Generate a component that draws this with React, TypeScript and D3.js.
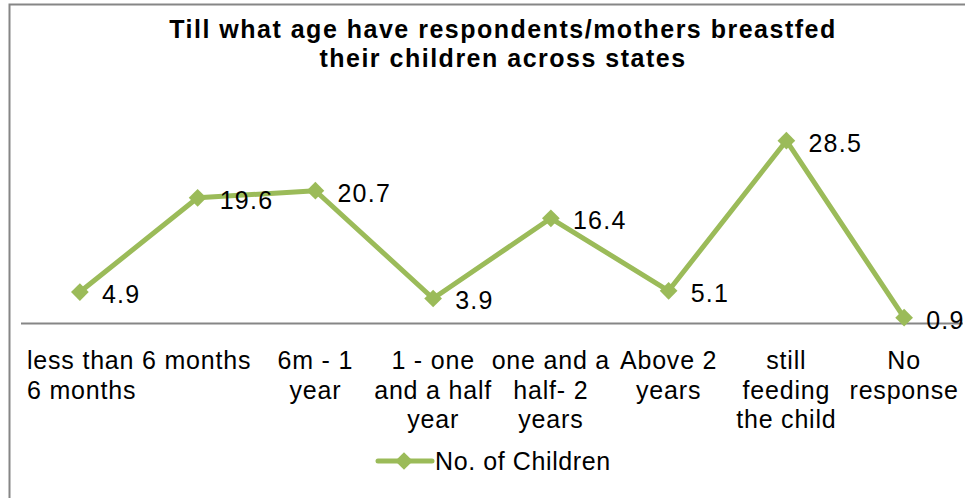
import * as d3 from "d3";

const categories = [
  "less than 6 months",
  "6m - 1 year",
  "1 - one and a half year",
  "one and a half- 2 years",
  "Above 2 years",
  "still feeding the child",
  "No response",
];
// wrapped lines as they appear under the axis; the first one spills left
const categoryLines = [
  ["less than 6 months", "6 months"],
  ["6m - 1", "year"],
  ["1 - one", "and a half", "year"],
  ["one and a", "half- 2", "years"],
  ["Above 2", "years"],
  ["still", "feeding", "the child"],
  ["No", "response"],
];
const pointKeys = ["p0", "p1", "p2", "p3", "p4", "p5", "p6", "p7"];
const values = [4.9, 19.6, 20.7, 3.9, 16.4, 5.1, 28.5, 0.9];
const seriesName = "No. of Children";
const titleLines = [
  "Till what age have respondents/mothers breastfed",
  "their children across states",
];

const W = 965;
const H = 498;
const green = "#9BBB59";
const font = "'Liberation Sans', Arial, sans-serif";

export default function App() {
  const x = d3.scaleBand<string>().domain(pointKeys).range([21, 963]);
  const y = d3.scaleLinear().domain([0, 35]).range([323.5, 99]);
  const cx = (i: number) => (x(pointKeys[i]) ?? 0) + x.bandwidth() / 2;

  const line = d3
    .line<number>()
    .x((_, i) => cx(i))
    .y((d) => y(d));

  const diamond = d3.symbol().type(d3.symbolDiamond2).size(200)() as string;

  return (
    <svg
      width={W}
      height={H}
      style={{ position: "absolute", left: 0, top: 0, background: "#fff" }}
      fontFamily={font}
    >
      <rect x={0} y={0} width={W} height={H} fill="#fff" />
      <path d={`M9.5,${H} V4.5 H${W}`} fill="none" stroke="#868686" strokeWidth={2} />

      {titleLines.map((t, i) => (
        <text
          key={t}
          x={503}
          y={38 + i * 29}
          textAnchor="middle"
          fontSize={25}
          fontWeight="bold"
          letterSpacing={1.5}
          fill="#000"
        >
          {t}
        </text>
      ))}

      <line x1={21} x2={963} y1={y(0)} y2={y(0)} stroke="#868686" strokeWidth={2} />

      {categoryLines.map((lines, i) => {
        const first = i === 0;
        const px = first ? 27 : cx(i + 1);
        return (
          <text
            key={categories[i]}
            x={px}
            y={369}
            fontSize={25}
            letterSpacing={0.8}
            fill="#000"
            textAnchor={first ? "start" : "middle"}
          >
            {lines.map((l, j) => (
              <tspan key={j} x={px} dy={j === 0 ? 0 : 29.5}>
                {l}
              </tspan>
            ))}
          </text>
        );
      })}

      <path d={line(values) ?? ""} fill="none" stroke={green} strokeWidth={5} strokeLinejoin="round" />
      {values.map((v, i) => (
        <g key={pointKeys[i]}>
          <path d={diamond} transform={`translate(${cx(i)},${y(v)})`} fill={green} />
          <text x={cx(i) + 22} y={y(v) + 11} fontSize={25} letterSpacing={1.3} fill="#000">
            {v.toFixed(1)}
          </text>
        </g>
      ))}

      <g>
        <line x1={378} x2={432} y1={461} y2={461} stroke={green} strokeWidth={5} strokeLinecap="round" />
        <path d={diamond} transform="translate(404,461)" fill={green} />
        <text x={435} y={470} fontSize={25} letterSpacing={0.6} fill="#000">
          {seriesName}
        </text>
      </g>
    </svg>
  );
}
